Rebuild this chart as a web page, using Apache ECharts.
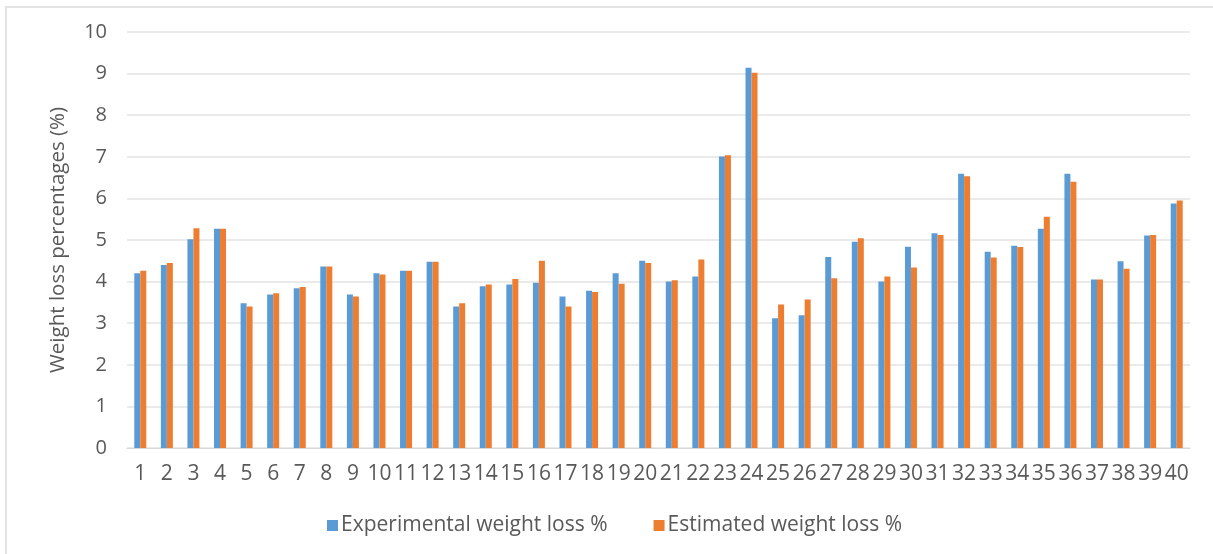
<!DOCTYPE html>
<html>
<head>
<meta charset="utf-8">
<script src="https://cdn.jsdelivr.net/npm/echarts@6/dist/echarts.min.js"></script>
<style>
  html, body { margin: 0; padding: 0; background: #fff; }
  #frame { position: absolute; left: 5px; top: 6px; width: 1208px; height: 548px; border-top: 2px solid #E3E3E3; border-left: 2px solid #E3E3E3; }
  #chart { position: absolute; left: 0; top: 0; width: 1213px; height: 554px; }
</style>
</head>
<body>
<div id="frame"></div>
<div id="chart"></div>
<script>
const categories = ['1','2','3','4','5','6','7','8','9','10','11','12','13','14','15','16','17','18','19','20',
  '21','22','23','24','25','26','27','28','29','30','31','32','33','34','35','36','37','38','39','40'];
const experimental = [4.20, 4.40, 5.02, 5.27, 3.48, 3.69, 3.84, 4.36, 3.69, 4.20,
  4.26, 4.48, 3.40, 3.89, 3.93, 3.97, 3.64, 3.78, 4.20, 4.50,
  4.00, 4.12, 7.01, 9.14, 3.12, 3.19, 4.59, 4.96, 4.00, 4.84,
  5.16, 6.59, 4.72, 4.86, 5.27, 6.59, 4.05, 4.49, 5.11, 5.88];
const estimated = [4.26, 4.45, 5.28, 5.27, 3.40, 3.72, 3.87, 4.36, 3.64, 4.17,
  4.26, 4.48, 3.48, 3.93, 4.06, 4.50, 3.40, 3.75, 3.95, 4.45,
  4.03, 4.53, 7.04, 9.02, 3.45, 3.57, 4.08, 5.04, 4.12, 4.34,
  5.12, 6.53, 4.58, 4.83, 5.56, 6.40, 4.05, 4.31, 5.12, 5.95];
const yTicks = [0, 1, 2, 3, 4, 5, 6, 7, 8, 9, 10];

const FONT = 'Open Sans';
const TXT = '#595959';
const chart = echarts.init(document.getElementById('chart'), null, { renderer: 'canvas' });
chart.setOption({
  animation: false,
  backgroundColor: 'transparent',
  textStyle: { fontFamily: FONT, color: TXT },
  grid: { left: 127, right: 23, top: 32, bottom: 106, containLabel: false },
  legend: {
    left: 322, top: 510,
    itemWidth: 11, itemHeight: 11, itemGap: 46,
    icon: 'rect',
    textStyle: { fontFamily: FONT, fontSize: 21, color: TXT, padding: [0, 0, 0, -2] },
    data: ['Experimental weight loss %', 'Estimated weight loss %']
  },
  xAxis: {
    type: 'category',
    data: categories,
    axisLine: { show: true, lineStyle: { color: '#D9D9D9', width: 1 } },
    axisTick: { show: false },
    axisLabel: { interval: 0, fontFamily: FONT, fontSize: 21, color: TXT, margin: 16 }
  },
  yAxis: {
    type: 'value',
    min: yTicks[0], max: yTicks[yTicks.length - 1], interval: 1,
    name: 'Weight loss percentages (%)',
    nameLocation: 'middle',
    nameGap: 58,
    nameTextStyle: { fontFamily: FONT, fontSize: 20.5, color: TXT },
    axisLine: { show: false },
    axisTick: { show: false },
    axisLabel: { fontFamily: FONT, fontSize: 20, color: TXT, margin: 20 },
    splitLine: { lineStyle: { color: '#E3E3E3', width: 1.5 } }
  },
  series: [
    { name: 'Experimental weight loss %', type: 'bar', data: experimental, barWidth: 6, barGap: '0%',
      itemStyle: { color: '#5B9BD5' } },
    { name: 'Estimated weight loss %', type: 'bar', data: estimated, barWidth: 6, barGap: '0%',
      itemStyle: { color: '#ED7D31' } }
  ]
});
</script>
</body>
</html>
